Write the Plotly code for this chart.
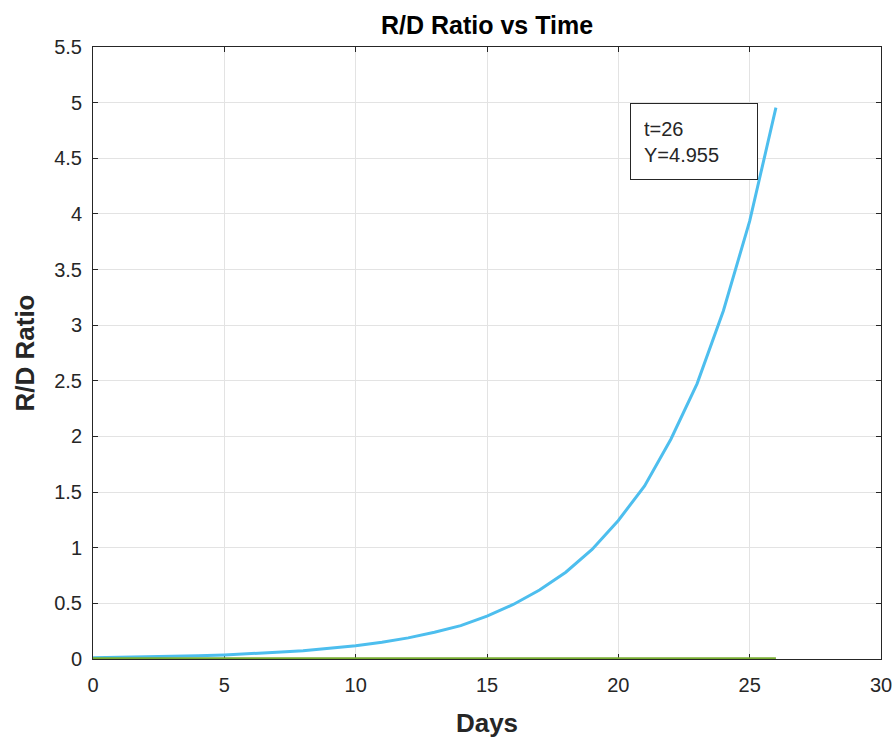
import plotly.graph_objects as go

days = list(range(27))
rd_ratio = [0.011, 0.014, 0.018, 0.023, 0.029, 0.037, 0.047, 0.060, 0.075, 0.095,
            0.120, 0.150, 0.190, 0.240, 0.300, 0.385, 0.490, 0.620, 0.780, 0.985,
            1.245, 1.555, 1.975, 2.475, 3.130, 3.935, 4.955]
baseline = [0.0] * 27

x_ticks = [0, 5, 10, 15, 20, 25, 30]
y_ticks = [0, 0.5, 1, 1.5, 2, 2.5, 3, 3.5, 4, 4.5, 5, 5.5]
y_tick_labels = ["0", "0.5", "1", "1.5", "2", "2.5", "3", "3.5", "4", "4.5", "5", "5.5"]

font_family = "Liberation Sans, Arial, sans-serif"
dark = "#262626"

fig = go.Figure()
fig.add_trace(go.Scatter(x=days, y=rd_ratio, mode="lines",
                         line=dict(color="#4DBEEE", width=3), showlegend=False))
fig.add_trace(go.Scatter(x=days, y=baseline, mode="lines",
                         line=dict(color="#77AC30", width=3.5), showlegend=False))

fig.add_annotation(x=22.88, y=4.65, xref="x", yref="y", showarrow=False,
                   text="t=26<br>Y=4.955", align="left",
                   font=dict(family=font_family, size=20, color=dark),
                   bordercolor=dark, borderwidth=1, borderpad=13,
                   bgcolor="white", width=100, height=49, xanchor="center", yanchor="middle")

axis_common = dict(showline=True, linecolor=dark, linewidth=1, mirror="ticks",
                   ticks="inside", ticklen=5, tickcolor=dark,
                   showgrid=True, gridcolor="#e3e3e3", gridwidth=1,
                   zeroline=False, layer="below traces", automargin=False,
                   tickfont=dict(family=font_family, size=20, color=dark))

fig.update_xaxes(range=[0, 30], tickvals=x_ticks, ticktext=[str(v) for v in x_ticks],
                 ticklabelstandoff=8,
                 title=dict(text="<b>Days</b>", font=dict(family=font_family, size=26, color=dark),
                            standoff=18),
                 **axis_common)
fig.update_yaxes(range=[0, 5.5], tickvals=y_ticks, ticktext=y_tick_labels,
                 ticklabelstandoff=6,
                 title=dict(text="<b>R/D Ratio</b>", font=dict(family=font_family, size=26, color=dark),
                            standoff=12),
                 **axis_common)

fig.update_layout(
    width=896, height=740,
    margin=dict(l=93, r=15, t=47, b=81),
    plot_bgcolor="white", paper_bgcolor="white",
    title=dict(text="<b>R/D Ratio vs Time</b>", x=(93 + 881) / 2 / 896, xanchor="center",
               y=1 - 25 / 740, yanchor="middle",
               font=dict(family=font_family, size=25, color="#000000")),
)

fig.write_html("out.html")
